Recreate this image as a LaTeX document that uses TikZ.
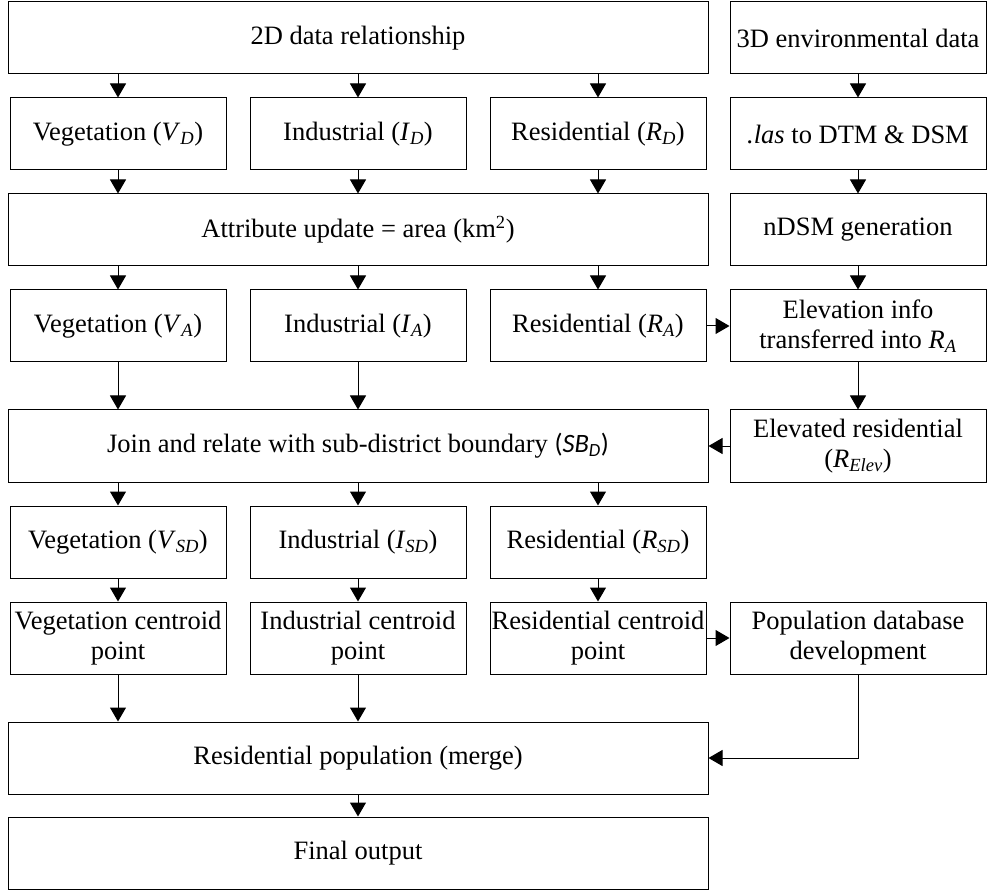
\documentclass[tikz,border=0pt]{standalone}
\usepackage{fontspec}
\setmainfont{Liberation Serif}
\newfontfamily\calib{Carlito}
\usepackage{tikz}
\usetikzlibrary{arrows.meta, positioning}
\newcommand\boxfont{\fontsize{26.5}{30}\selectfont}
\newcommand\vsub[2]{\textit{#1}\textsubscript{\textit{#2}}}

\begin{document}
\begin{tikzpicture}[x=1pt, y=-1pt, node distance=96pt]
  \tikzstyle{box} = [rectangle, draw=black, line width=1pt, minimum width=216pt, minimum height=72pt, inner xsep=1pt, align=center, font=\boxfont]
  \tikzstyle{wide} = [box, minimum width=700pt]
  \tikzstyle{side} = [box, minimum width=256pt]
  \tikzstyle{arrow} = [-{Triangle[width=16pt,length=14pt]}, line width=1pt]
  \useasboundingbox (0,0) rectangle (988,890);
  \node[box] (vd) at (118,134) {Vegetation (\vsub{V}{D})};
  \node[box, right of=vd, node distance=240pt] (id) {Industrial (\vsub{I}{D})};
  \node[box, right of=id, node distance=240pt] (rd) {Residential (\vsub{R}{D})};
  \node[side, right of=rd, node distance=260pt] (las) {\textit{.las} to DTM \& DSM};
  \node[wide, above of=id] (top2d) {2D data relationship};
  \node[side, above of=las] (env3d) {3D environmental data};
  \node[wide, below of=id] (attr) {Attribute update = area (km\textsuperscript{2})};
  \node[side, below of=las] (ndsm) {nDSM generation};
  \node[box, below of=vd, node distance=192pt] (va) {Vegetation (\vsub{V}{A})};
  \node[box, right of=va, node distance=240pt] (ia) {Industrial (\vsub{I}{A})};
  \node[box, right of=ia, node distance=240pt] (ra) {Residential (\vsub{R}{A})};
  \node[side, right of=ra, node distance=260pt] (elev) {Elevation info\\transferred into \vsub{R}{A}};
  \node[wide, below of=ia, node distance=120pt] (join) {Join and relate with sub-district boundary {\calib(\vsub{SB}{D})}};
  \node[side, below of=elev, node distance=120pt] (relev) {Elevated residential\\(\vsub{R}{Elev})};
  \node[box, below of=va, node distance=216pt] (vsd) {Vegetation (\vsub{V}{SD})};
  \node[box, right of=vsd, node distance=240pt] (isd) {Industrial (\vsub{I}{SD})};
  \node[box, right of=isd, node distance=240pt] (rsd) {Residential (\vsub{R}{SD})};
  \node[box, below of=vsd] (vcp) {Vegetation centroid\\point};
  \node[box, below of=isd] (icp) {Industrial centroid\\point};
  \node[box, below of=rsd] (rcp) {Residential centroid\\point};
  \node[side, right of=rcp, node distance=260pt] (popdb) {Population database\\development};
  \node[wide, below of=icp, node distance=120pt] (respop) {Residential population (merge)};
  \node[wide, below of=respop, node distance=95pt] (final) {Final output};
  \foreach \c in {vd,id,rd} \draw[arrow] (top2d.south -| \c) -- (\c);
  \draw[arrow] (env3d) -- (las);
  \foreach \c in {vd,id,rd} \draw[arrow] (\c) -- (attr.north -| \c);
  \draw[arrow] (las) -- (ndsm);
  \foreach \c in {va,ia,ra} \draw[arrow] (attr.south -| \c) -- (\c);
  \draw[arrow] (ndsm) -- (elev);
  \foreach \c in {va,ia} \draw[arrow] (\c) -- (join.north -| \c);
  \draw[arrow] (ra) -- (elev);
  \draw[arrow] (elev) -- (relev);
  \draw[arrow] (relev) -- (join);
  \foreach \c in {vsd,isd,rsd} \draw[arrow] (join.south -| \c) -- (\c);
  \foreach \c/\d in {vsd/vcp,isd/icp,rsd/rcp} \draw[arrow] (\c) -- (\d);
  \draw[arrow] (rcp) -- (popdb);
  \foreach \c in {vcp,icp} \draw[arrow] (\c) -- (respop.north -| \c);
  \draw[arrow] (popdb) |- (respop);
  \draw[arrow] (respop) -- (final);
\end{tikzpicture}
\end{document}
